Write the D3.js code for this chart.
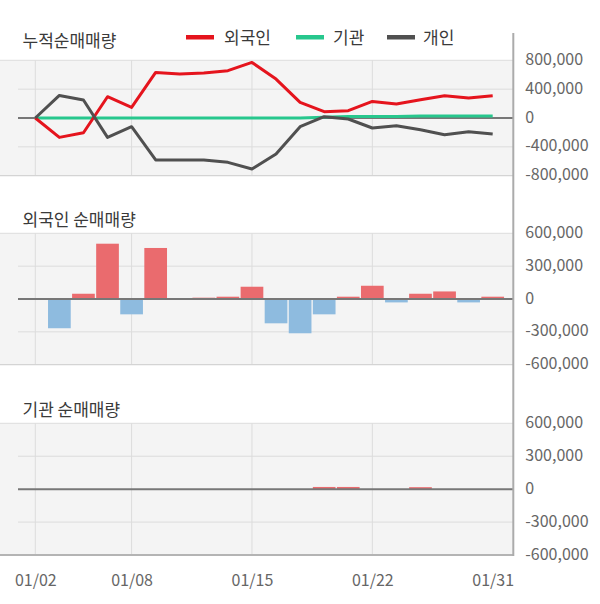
<!DOCTYPE html>
<html><head><meta charset="utf-8">
<script src="https://cdn.jsdelivr.net/npm/d3@7"></script>
<style>
html,body{margin:0;padding:0;background:#fff;}
svg{display:block;font-family:"Noto Sans CJK KR","Noto Sans",sans-serif;}
</style></head>
<body><svg id="c" width="600" height="604"></svg>
<script>
const dates = ["01/02","01/03","01/06","01/07","01/08","01/09","01/10","01/13","01/14","01/15","01/16","01/17","01/20","01/21","01/22","01/23","01/28","01/29","01/30","01/31"];
const tickDates = ["01/02","01/08","01/15","01/22","01/31"];
const gridDates = ["01/02","01/08","01/15","01/22"];
const foreignCum = [0,-269000,-204000,295000,147000,632000,610000,624000,656000,771000,540000,216000,87000,101000,230000,194000,254000,309000,277000,309000];
const instCum = [0,0,0,0,0,0,0,0,0,0,0,0,12000,22000,22000,22000,27000,27000,27000,27000];
const indivCum = [0,313000,250000,-269000,-121000,-582000,-582000,-582000,-615000,-707000,-499000,-121000,18000,-14000,-139000,-107000,-162000,-231000,-190000,-222000];
const foreignNet = [0,-267000,48000,505000,-140000,466000,0,12000,21000,112000,-222000,-313000,-140000,21000,121000,-31000,48000,69000,-31000,21000];
const instNet = [0,0,0,0,0,0,0,0,0,0,0,0,20000,20000,0,0,18000,0,0,0];
const cumTicks = [800000,400000,0,-400000,-800000];
const netTicks = [600000,300000,0,-300000,-600000];
const seriesNames = ["외국인","기관","개인"];
const seriesColors = ["#e5141d","#27c78d","#505050"];
const titles = ["누적순매매량","외국인 순매매량","기관 순매매량"];

const svg = d3.select("#c");
const font = '"Noto Sans CJK KR","Noto Sans",sans-serif';
const axisX = 513.3, plotL = 0, gridL = 18;
const x = d3.scalePoint().domain(dates).range([35.3, 492.7]);
const barW = 22.7;
const fmt = v => d3.format(",")(v).replace("\u2212","-");

const panels = [
  {top:60.3, bot:175.7, dom:[-800000,800000], ticks:cumTicks},
  {top:233.3, bot:364.7, dom:[-600000,600000], ticks:netTicks},
  {top:423.3, bot:555, dom:[-600000,600000], ticks:netTicks}
];
panels.forEach(p => { p.y = d3.scaleLinear().domain(p.dom).range([p.bot, p.top]); });

panels.forEach((p,pi) => {
  const g = svg.append("g");
  g.append("rect").attr("x",plotL).attr("y",p.top).attr("width",axisX-plotL).attr("height",p.bot-p.top).attr("fill","#f4f4f4");
  g.selectAll("line.v").data(gridDates).enter().append("line")
    .attr("x1",d=>x(d)).attr("x2",d=>x(d)).attr("y1",p.top).attr("y2",p.bot)
    .attr("stroke","#dcdcdc").attr("stroke-width",1);
  g.selectAll("line.h").data(p.ticks.filter(t=>t!==0 && Math.abs(t)!==p.dom[1])).enter().append("line")
    .attr("x1",gridL).attr("x2",axisX).attr("y1",d=>p.y(d)).attr("y2",d=>p.y(d))
    .attr("stroke","#dcdcdc").attr("stroke-width",1);
  g.append("line").attr("x1",plotL).attr("x2",axisX).attr("y1",p.top).attr("y2",p.top).attr("stroke","#dcdcdc");
  g.append("line").attr("x1",plotL).attr("x2",axisX).attr("y1",p.bot).attr("y2",p.bot)
    .attr("stroke", pi===2 ? "#b4b4b4" : "#d4d4d4").attr("stroke-width", pi===2 ? 2 : 1.2);
  const ax = d3.axisRight(p.y).tickValues(p.ticks).tickSize(0).tickPadding(0).tickFormat(fmt);
  const ag = svg.append("g").attr("transform",`translate(${axisX+12},-1)`).call(ax);
  ag.select(".domain").remove();
  ag.selectAll("text").attr("font-family",font).attr("font-size",16).attr("fill","#666");
  svg.append("text").attr("x",22.5).attr("y",[46.5,226,416][pi]).attr("font-size",17)
    .attr("font-family",font).attr("fill","#3a3a3a").text(titles[pi]);
});

const p0 = panels[0];
svg.append("line").attr("x1",gridL).attr("x2",axisX).attr("y1",p0.y(0)).attr("y2",p0.y(0)).attr("stroke","#777").attr("stroke-width",2);
const line = d3.line().x((d,i)=>x(dates[i])).y(d=>p0.y(d));
[[instCum,1],[foreignCum,0],[indivCum,2]].forEach(([arr,ci]) => {
  svg.append("path").datum(arr).attr("d",line).attr("fill","none")
    .attr("stroke",seriesColors[ci]).attr("stroke-width",3).attr("stroke-linejoin","round");
});

[[foreignNet,panels[1]],[instNet,panels[2]]].forEach(([arr,p]) => {
  svg.append("g").selectAll("rect").data(arr.map((v,i)=>({v,d:dates[i]})).filter(o=>o.v!==0)).enter().append("rect")
    .attr("x",o=>x(o.d)-barW/2).attr("width",barW)
    .attr("y",o=>Math.min(p.y(o.v),p.y(0))).attr("height",o=>Math.abs(p.y(o.v)-p.y(0)))
    .attr("fill",o=>o.v>0?"#ea6b6e":"#8ebbdf");
  svg.append("line").attr("x1",gridL).attr("x2",axisX).attr("y1",p.y(0)).attr("y2",p.y(0)).attr("stroke","#777").attr("stroke-width",2);
});

svg.append("line").attr("x1",axisX).attr("x2",axisX).attr("y1",33).attr("y2",556).attr("stroke","#ababab").attr("stroke-width",2);

const xa = d3.axisBottom(x).tickValues(tickDates).tickSize(0).tickPadding(0);
const xg = svg.append("g").attr("transform","translate(0,575)").call(xa);
xg.select(".domain").remove();
xg.selectAll("text").attr("font-family",font).attr("font-size",16).attr("fill","#666");

const lx = [186,296,387], tx = [224,333,423];
seriesNames.forEach((n,i) => {
  svg.append("rect").attr("x",lx[i]).attr("y",35).attr("width",28).attr("height",4.5).attr("fill",seriesColors[i]);
  svg.append("text").attr("x",tx[i]).attr("y",44).attr("font-size",17).attr("font-family",font).attr("fill","#3a3a3a").text(n);
});
</script></body></html>
